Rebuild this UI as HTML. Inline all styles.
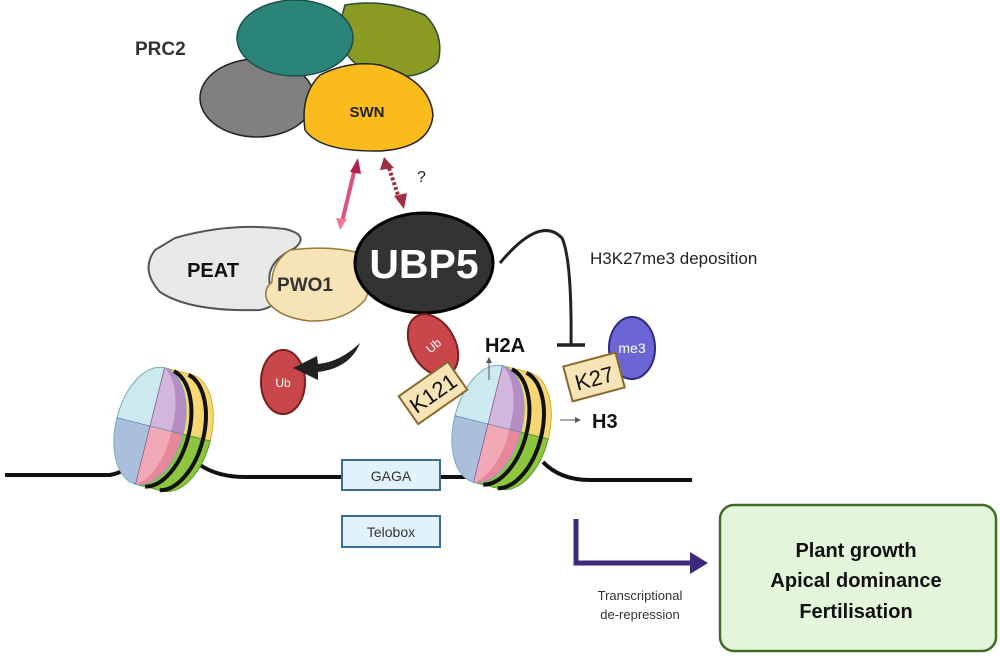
<!DOCTYPE html>
<html><head><meta charset="utf-8"><style>
html,body{margin:0;padding:0;background:#fff;}
svg{display:block;font-family:"Liberation Sans",Arial,sans-serif;}
</style></head><body>
<svg width="1000" height="657" viewBox="0 0 1000 657" xmlns="http://www.w3.org/2000/svg">
<defs>
<clipPath id="fc"><ellipse cx="0" cy="0" rx="34" ry="60"/></clipPath>
<marker id="pa" markerWidth="6" markerHeight="6" refX="3" refY="3" orient="auto"><path d="M0,0L6,3L0,6z" fill="#555"/></marker>
<g id="nuc">
  <path d="M0,-60 L28,-60 A34,60 0 0 1 62,0 L0,0 Z" fill="#f7d774" stroke="#d9a830" stroke-width="1"/>
  <path d="M0,60 L28,60 A34,60 0 0 0 62,0 L0,0 Z" fill="#8cc63f" stroke="#5a9a20" stroke-width="1"/>
  <g clip-path="url(#fc)">
    <rect x="-40" y="-70" width="40" height="70" fill="#cbe9ee"/>
    <rect x="0" y="-70" width="40" height="70" fill="#d3b6dc"/>
    <rect x="-40" y="0" width="40" height="70" fill="#a9bfdc"/>
    <rect x="0" y="0" width="40" height="70" fill="#f2a9b6"/>
  </g>
  <path d="M0,-60 A34,60 0 0 1 34,0 L22,0 A30,58 0 0 0 0,-60 Z" fill="#b58cc4"/>
  <path d="M0,60 A34,60 0 0 0 34,0 L22,0 A30,58 0 0 1 0,60 Z" fill="#e7879a"/>
  <ellipse cx="0" cy="0" rx="34" ry="60" fill="none" stroke="#7ab" stroke-width="1"/>
  <line x1="-34" y1="0" x2="34" y2="0" stroke="#5a8ab0" stroke-width="0.8"/>
  <line x1="0" y1="-60" x2="0" y2="60" stroke="#8a5a9a" stroke-width="0.8"/>
  <path d="M10,-59 A34,60 0 0 1 10,60" fill="none" stroke="#111" stroke-width="4"/>
  <path d="M25,-59 A34,60 0 0 1 25,60" fill="none" stroke="#111" stroke-width="4"/>
</g>
</defs>

<path d="M5,475 L110,475 Q125,472 135,462" fill="none" stroke="#111" stroke-width="4"/>
<path d="M200,465 Q218,477 245,477 L470,477 Q482,474 490,465" fill="none" stroke="#111" stroke-width="4"/>
<path d="M543,462 Q560,480 590,480 L692,480" fill="none" stroke="#111" stroke-width="4"/>

<g transform="translate(150,426) rotate(14)"><use href="#nuc"/></g>
<g transform="translate(488,424) rotate(14)"><use href="#nuc"/></g>

<rect x="342" y="460" width="98" height="30" fill="#e2f2fb" stroke="#3a6e95" stroke-width="2"/>
<text x="391" y="481" font-size="14" text-anchor="middle" fill="#333">GAGA</text>
<rect x="342" y="516" width="98" height="31" fill="#e2f2fb" stroke="#3a6e95" stroke-width="2"/>
<text x="391" y="537" font-size="14" text-anchor="middle" fill="#333">Telobox</text>

<text x="135" y="55" font-size="19" font-weight="bold" fill="#333">PRC2</text>
<path d="M345,5 Q385,-2 425,15 Q445,35 438,62 Q420,82 375,75 Q340,60 338,30 Z" fill="#8a9a22" stroke="#2c4a3a" stroke-width="1.5"/>
<ellipse cx="257" cy="98" rx="57" ry="39" fill="#808080" stroke="#222" stroke-width="1.5"/>
<ellipse cx="295" cy="38" rx="58" ry="38" fill="#2a8478" stroke="#1d4f49" stroke-width="1.5"/>
<path d="M320,75 Q350,60 380,65 Q430,80 433,115 Q430,148 380,151 Q320,152 305,130 Q300,95 320,75 Z" fill="#fbbb1c" stroke="#222" stroke-width="1.5"/>
<text x="367" y="117" font-size="15" font-weight="bold" text-anchor="middle" fill="#222">SWN</text>

<line x1="342" y1="222" x2="355" y2="168" stroke="#d9537a" stroke-width="4"/>
<path d="M350,172 L358,158 L361,174 Z" fill="#b0204a"/>
<path d="M336,218 L340,230 L347,219 Z" fill="#f07a9a"/>
<line x1="389" y1="168" x2="399" y2="198" stroke="#a03040" stroke-width="4" stroke-dasharray="3,2"/>
<path d="M380,170 L384,157 L394,168 Z" fill="#a03040"/>
<path d="M394,196 L404,209 L407,193 Z" fill="#a03040"/>
<text x="417" y="182" font-size="16" fill="#222">?</text>

<path d="M175,238 Q230,222 285,229 Q310,235 295,248 Q265,262 270,285 Q285,305 260,310 Q190,312 160,292 Q140,270 155,250 Z" fill="#e8e8e8" stroke="#555" stroke-width="2"/>
<text x="213" y="277" font-size="20" font-weight="bold" text-anchor="middle" fill="#111">PEAT</text>
<path d="M290,250 Q330,245 360,253 Q375,280 365,300 Q345,322 310,321 Q280,318 268,302 Q262,290 272,282 Q272,262 290,250 Z" fill="#f6e4b6" stroke="#9a7a3a" stroke-width="1.5"/>
<text x="305" y="291" font-size="19" font-weight="bold" text-anchor="middle" fill="#333">PWO1</text>
<ellipse cx="424" cy="263" rx="69" ry="50" fill="#333" stroke="#000" stroke-width="3"/>
<text x="424" y="278" font-size="41" font-weight="bold" text-anchor="middle" fill="#fff">UBP5</text>

<path d="M500,263 Q540,215 562,238 Q572,260 571,345" fill="none" stroke="#222" stroke-width="3"/>
<line x1="557" y1="345" x2="585" y2="345" stroke="#222" stroke-width="3.5"/>
<text x="590" y="264" font-size="17" fill="#222">H3K27me3 deposition</text>

<ellipse cx="283" cy="382" rx="22" ry="32" fill="#c9474a" stroke="#7a1e1e" stroke-width="2"/>
<text x="283" y="387" font-size="12" text-anchor="middle" fill="#fff">Ub</text>
<path d="M360,343 Q350,368 318,372 L318,380 L293,368 L317,356 L318,364 Q340,362 360,343 Z" fill="#222"/>

<ellipse cx="433" cy="345" rx="22" ry="33" transform="rotate(-30 433 345)" fill="#c9474a" stroke="#7a1e1e" stroke-width="2"/>
<text x="433" y="350" font-size="12" text-anchor="middle" fill="#fff" transform="rotate(-40 433 345)">Ub</text>
<g transform="translate(433,393) rotate(-35)">
<rect x="-30" y="-17" width="60" height="34" fill="#f6e4b6" stroke="#8a6a2a" stroke-width="2"/>
<text x="0" y="8" font-size="22" text-anchor="middle" fill="#111">K121</text></g>
<text x="485" y="352" font-size="20" font-weight="bold" fill="#111">H2A</text>
<line x1="489" y1="380" x2="489" y2="360" stroke="#555" stroke-width="1" marker-end="url(#pa)"/>

<ellipse cx="632" cy="348" rx="23" ry="31" fill="#6b65d6" stroke="#2c2a80" stroke-width="2"/>
<text x="632" y="353" font-size="14" text-anchor="middle" fill="#fff">me3</text>
<g transform="translate(594,377) rotate(-15)">
<rect x="-27" y="-18" width="54" height="36" fill="#f6e4b6" stroke="#8a6a2a" stroke-width="2"/>
<text x="0" y="9" font-size="22" text-anchor="middle" fill="#111">K27</text></g>
<line x1="560" y1="420" x2="578" y2="420" stroke="#555" stroke-width="1" marker-end="url(#pa)"/>
<text x="592" y="428" font-size="20" font-weight="bold" fill="#111">H3</text>

<path d="M576,519 L576,563 L692,563" fill="none" stroke="#3d2a7a" stroke-width="5"/>
<path d="M690,552 L708,563 L690,574 Z" fill="#3d2a7a"/>
<text x="640" y="600" font-size="13" text-anchor="middle" fill="#333">Transcriptional</text>
<text x="640" y="619" font-size="13" text-anchor="middle" fill="#333">de-repression</text>

<rect x="720" y="505" width="276" height="146" rx="14" fill="#e3f6dc" stroke="#3e6d22" stroke-width="2.5"/>
<text x="856" y="557" font-size="20" font-weight="bold" text-anchor="middle" fill="#111">Plant growth</text>
<text x="856" y="587" font-size="20" font-weight="bold" text-anchor="middle" fill="#111">Apical dominance</text>
<text x="856" y="618" font-size="20" font-weight="bold" text-anchor="middle" fill="#111">Fertilisation</text>
</svg>
</body></html>
